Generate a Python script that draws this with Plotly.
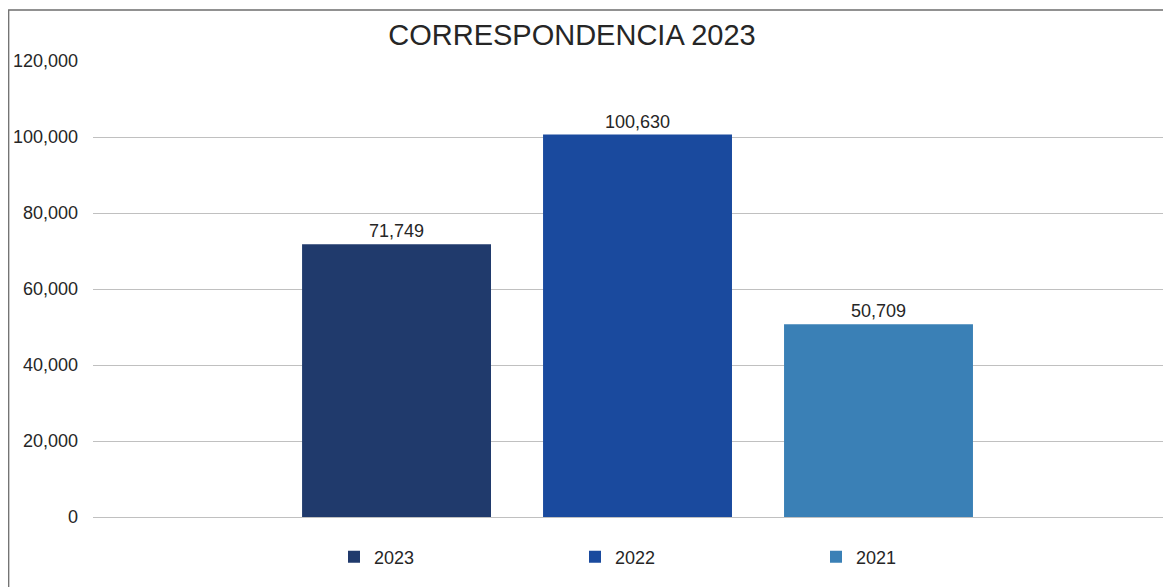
import plotly.graph_objects as go

series = ["2023", "2022", "2021"]
values = [71749, 100630, 50709]
colors = ["#203A6C", "#1A4A9E", "#3A80B6"]
category = [""]

fig = go.Figure()
for name, val, col in zip(series, values, colors):
    fig.add_trace(go.Bar(
        x=category, y=[val], name=name, marker=dict(color=col, line=dict(width=0)),
        text=[f"{val:,}"], textposition="outside", cliponaxis=False,
        textfont=dict(family="Liberation Sans, Arial", size=18, color="#262626"),
    ))

# page body has an 8px offset; figure coords = screen coords - 8
W, H = 1171, 587
L, R, T, B = 85, 0, 53, 78
pw, ph = W - L - R, H - T - B
off = 8

fig.update_layout(
    width=W, height=H,
    margin=dict(l=L, r=R, t=T, b=B, autoexpand=False),
    paper_bgcolor="white", plot_bgcolor="white",
    barmode="group", bargap=0.3343, bargroupgap=0.216,
    font=dict(family="Liberation Sans, Arial", size=18, color="#262626"),
    title=dict(text="CORRESPONDENCIA 2023", x=(572 - off) / W, xanchor="center",
               y=1 - (35 - off) / H, yanchor="middle", yref="container",
               font=dict(size=29, color="#262626")),
    showlegend=True,
    legend=dict(orientation="h", x=(334 - off - L) / pw, xref="paper", xanchor="left",
                y=(517 - 557) / ph, yanchor="middle",
                entrywidth=196, entrywidthmode="pixels",
                itemwidth=30, traceorder="normal",
                font=dict(size=18, color="#262626")),
    xaxis=dict(range=[-0.5014, 0.4986], showticklabels=False, showgrid=False,
               zeroline=False, showline=False),
    yaxis=dict(range=[0, 120000], dtick=20000, tickformat=",",
               showgrid=True, gridcolor="#C0C0C0", gridwidth=1,
               zeroline=True, zerolinecolor="#C0C0C0", zerolinewidth=1,
               showline=False, ticks="", ticklabelstandoff=14,
               tickfont=dict(size=18, color="#262626")),
    shapes=[dict(type="rect", xref="paper", yref="paper",
                 x0=(0.7 - L) / pw, x1=1.05,
                 y0=-(H + 5 - (517 - off)) / ph, y1=(517 - 10) / ph,
                 line=dict(color="#6E6E6E", width=1.3), fillcolor="rgba(0,0,0,0)", layer="below")],
)

fig.write_html("out.html")
